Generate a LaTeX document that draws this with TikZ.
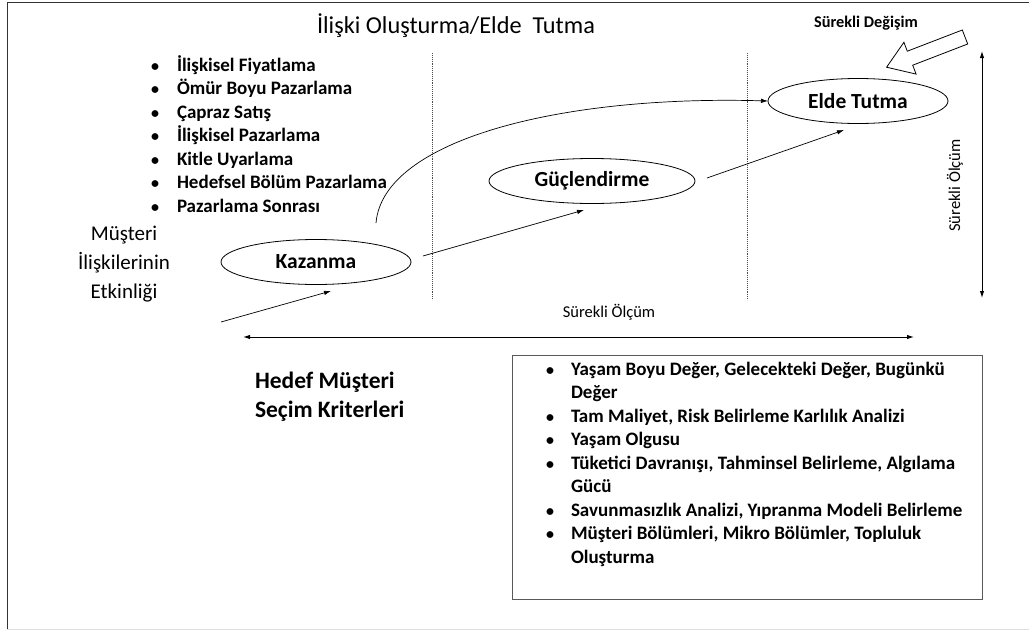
\documentclass[tikz,border=0pt]{standalone}
\usepackage{fontspec}
\setmainfont{Carlito}
\usetikzlibrary{arrows.meta,shapes.geometric}
\begin{document}
\begin{tikzpicture}[x=1pt,y=-1pt,
  every node/.style={inner sep=0pt, outer sep=0pt},
  oval/.style={ellipse, draw, line width=0.8pt, font=\fontsize{21.5}{24}\selectfont\bfseries},
  conn/.style={line width=0.7pt, -{Latex[length=7pt,width=4.5pt]}},
  dbl/.style={line width=1pt, {Latex[length=7pt,width=4.5pt]}-{Latex[length=7pt,width=4.5pt]}},
  sep/.style={densely dotted, line width=0.9pt, black!70},
  listtxt/.style={anchor=base west, font=\fontsize{19}{22}\selectfont\bfseries},
  bul/.style={anchor=base, font=\fontsize{16}{18}\selectfont\bfseries},
  bigtxt/.style={anchor=base, font=\fontsize{21}{24}\selectfont},
  hedef/.style={anchor=base west, font=\fontsize{23.5}{26}\selectfont\bfseries},
  smalltxt/.style={font=\fontsize{16.5}{19}\selectfont},
]
\useasboundingbox (0,0) rectangle (1029,632);
% frame
\draw[line width=1pt, black!80] (1029,2.5) -- (7,2.5) -- (7,630);
\draw[line width=1pt, black!12] (7,629.5) -- (1029,629.5);

% title
\node[anchor=base, font=\fontsize{24.3}{27}\selectfont] (title) at (456,33) {İlişki Oluşturma/Elde\ \ Tutma};

% separators
\draw[sep] (432,53) -- (432,300);
\draw[sep] (747,53) -- (747,300);

% left list
\foreach \t [count=\i from 0] in {İlişkisel Fiyatlama, Ömür Boyu Pazarlama, Çapraz Satış, İlişkisel Pazarlama, Kitle Uyarlama, Hedefsel Bölüm Pazarlama, Pazarlama Sonrası}{
  \node[bul] (lb\i) at (155,{71+23.5*\i}) {\textbullet};
  \node[listtxt] (lt\i) at (177,{71+23.5*\i}) {\t};
}

% left label
\node[bigtxt] (m1) at (124,240) {Müşteri};
\node[bigtxt] (m2) at (124,269) {İlişkilerinin};
\node[bigtxt] (m3) at (124,298) {Etkinliği};

% ovals
\node[oval, minimum width=190pt, minimum height=45pt] (kaz) at (316,262) {Kazanma};
\node[oval, minimum width=206pt, minimum height=45pt] (guc) at (592,181) {Güçlendirme};
\node[oval, minimum width=180pt, minimum height=45pt] (elde) at (858,101) {Elde Tutma};

% connectors
\coordinate (a1s) at (221,322);
\coordinate (a1e) at (331,291);
\draw[conn] (a1s) -- (a1e);
\coordinate (a2s) at (423,256);
\coordinate (a2e) at (584,210);
\draw[conn] (a2s) -- (a2e);
\coordinate (a3s) at (707,178);
\coordinate (a3e) at (844,130);
\draw[conn] (a3s) -- (a3e);
\coordinate (cs) at (376,223);
\draw[conn] (cs) .. controls (383,140) and (560,95) .. (elde.west);

% Sürekli Değişim
\node[anchor=base, font=\fontsize{16.3}{19}\selectfont\bfseries] (sd) at (866,27) {Sürekli Değişim};
\draw[line width=0.8pt, fill=white] (967.7,44.0) -- (962.3,30.0) -- (907.3,51.2) -- (903.9,42.3) -- (886.6,67.2) -- (916.1,74.1) -- (912.7,65.2) -- cycle;

% vertical measure
\coordinate (vt) at (982,51);
\coordinate (vb) at (982,298);
\draw[dbl] (vt) -- (vb);
\node[smalltxt, rotate=90] (vlab) at (955,185.5) {Sürekli Ölçüm};

% horizontal measure
\coordinate (hl) at (243,337);
\coordinate (hr) at (914,337);
\draw[dbl] (hl) -- (hr);
\node[smalltxt, anchor=base] (hlab) at (609,317) {Sürekli Ölçüm};

% Hedef
\node[hedef] (h1) at (255,388) {Hedef Müşteri};
\node[hedef] (h2) at (255,417) {Seçim Kriterleri};

% box
\draw[line width=1pt, black!65] (512,355) rectangle (982,599);
\foreach \b in {0,2,3,4,6,7}{
  \node[bul] (bb\b) at (550,{375+23.5*\b}) {\textbullet};
}
\foreach \t [count=\i from 0] in {{Yaşam Boyu Değer, Gelecekteki Değer, Bugünkü}, Değer, {Tam Maliyet, Risk Belirleme Karlılık Analizi}, Yaşam Olgusu, {Tüketici Davranışı, Tahminsel Belirleme, Algılama}, Gücü, {Savunmasızlık Analizi, Yıpranma Modeli Belirleme}, {Müşteri Bölümleri, Mikro Bölümler, Topluluk}, Oluşturma}{
  \node[listtxt] (bt\i) at (571,{375+23.5*\i}) {\t};
}
\end{tikzpicture}
\end{document}
